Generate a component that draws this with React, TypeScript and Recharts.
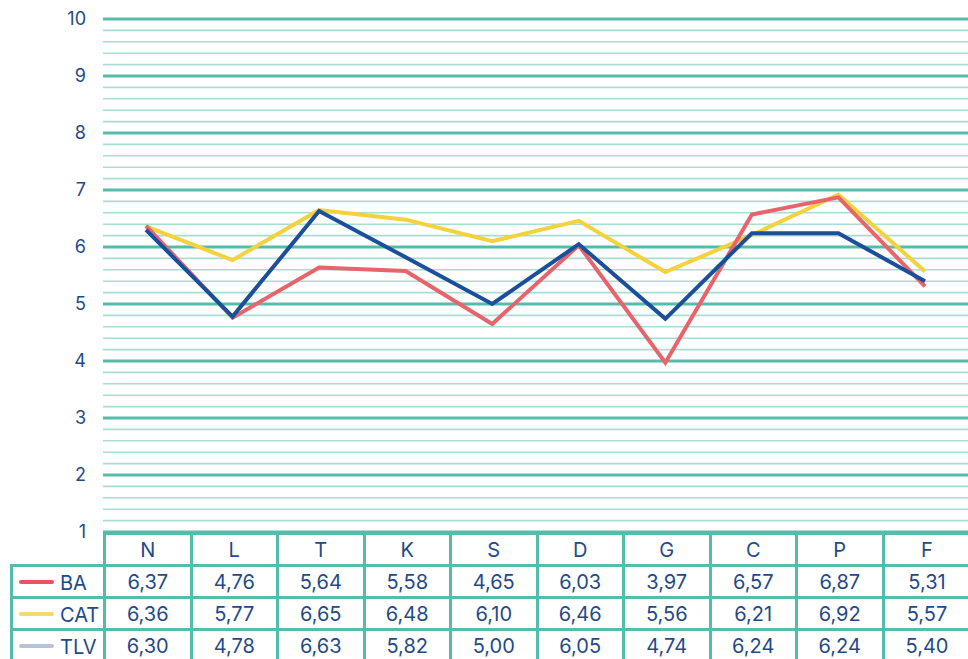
import { LineChart, Line, XAxis, YAxis, ReferenceLine } from 'recharts';

const categories = ['N', 'L', 'T', 'K', 'S', 'D', 'G', 'C', 'P', 'F'];
const ba = [6.37, 4.76, 5.64, 5.58, 4.65, 6.03, 3.97, 6.57, 6.87, 5.31];
const cat = [6.36, 5.77, 6.65, 6.48, 6.1, 6.46, 5.56, 6.21, 6.92, 5.57];
const tlv = [6.3, 4.78, 6.63, 5.82, 5.0, 6.05, 4.74, 6.24, 6.24, 5.4];
const yTicks = [1, 2, 3, 4, 5, 6, 7, 8, 9, 10];

const series = [
  { key: 'CAT', values: cat, color: '#f4d23c', swatch: '#f4d870' },
  { key: 'BA', values: ba, color: '#e8636b', swatch: '#e8555e' },
  { key: 'TLV', values: tlv, color: '#1b4e9b', swatch: '#b7c1d8' },
];
const tableRows = ['BA', 'CAT', 'TLV'].map((k) => series.find((s) => s.key === k)!);

const data = categories.map((c, i) => ({ name: c, BA: ba[i], CAT: cat[i], TLV: tlv[i] }));

// thin lines every 0.2 between the integer lines
const minorLines: number[] = [];
for (let v = 1; v < 10; v++) {
  for (let k = 1; k < 5; k++) minorLines.push(Math.round((v + k * 0.2) * 10) / 10);
}

const GRID = '#55bcab';
const MINOR = '#a9dcd3';
const TEXT = '#1f4a8a';
const fmt = (v: number) => v.toFixed(2).replace('.', ',');

const cell: React.CSSProperties = {
  border: `3px solid ${GRID}`,
  textAlign: 'center',
  color: TEXT,
  fontSize: 20,
  height: 29,
  padding: 0,
};
const lastCol = (i: number): React.CSSProperties =>
  i === categories.length - 1 ? { borderRight: 'none' } : {};

export default function App() {
  return (
    <div
      style={{
        position: 'absolute',
        left: 0,
        top: 0,
        width: 968,
        height: 659,
        overflow: 'hidden',
        background: '#fff',
        fontFamily: 'Inter, "Noto Sans", sans-serif',
      }}
    >
      <LineChart width={968} height={545} data={data} margin={{ top: 19, right: 0, left: 0, bottom: 13 }}>
        <XAxis dataKey="name" hide padding={{ left: 43, right: 43 }} />
        <YAxis
          width={103}
          domain={[1, 10]}
          ticks={yTicks}
          axisLine={false}
          tickLine={false}
          tickSize={0}
          tickMargin={17}
          tick={{ fill: TEXT, fontSize: 18 }}
        />
        {minorLines.map((v) => (
          <ReferenceLine key={'m' + v} y={v} stroke={MINOR} strokeWidth={1.6} />
        ))}
        {yTicks.map((v) => (
          <ReferenceLine key={'M' + v} y={v} stroke={GRID} strokeWidth={3} />
        ))}
        {series.map((s) => (
          <Line
            key={s.key}
            dataKey={s.key}
            stroke={s.color}
            strokeWidth={4}
            dot={false}
            activeDot={false}
            isAnimationActive={false}
            strokeLinejoin="miter"
          />
        ))}
      </LineChart>
      <table
        style={{
          position: 'absolute',
          left: 10,
          top: 532,
          borderCollapse: 'collapse',
          tableLayout: 'fixed',
          width: 958,
        }}
      >
        <colgroup>
          <col style={{ width: 93 }} />
          {categories.map((c) => (
            <col key={c} style={{ width: 86.5 }} />
          ))}
        </colgroup>
        <tbody>
          <tr>
            <td style={{ ...cell, border: 'none' }} />
            {categories.map((c, i) => (
              <td key={c} style={{ ...cell, ...lastCol(i) }}>
                {c}
              </td>
            ))}
          </tr>
          {tableRows.map((s) => (
            <tr key={s.key}>
              <td style={{ ...cell, textAlign: 'left', paddingLeft: 6 }}>
                <span
                  style={{
                    display: 'inline-block',
                    width: 35,
                    height: 4,
                    borderRadius: 2,
                    background: s.swatch,
                    verticalAlign: 'middle',
                    marginRight: 6,
                  }}
                />
                <span style={{ verticalAlign: 'middle' }}>{s.key}</span>
              </td>
              {s.values.map((v, i) => (
                <td key={i} style={{ ...cell, ...lastCol(i) }}>
                  {fmt(v)}
                </td>
              ))}
            </tr>
          ))}
        </tbody>
      </table>
    </div>
  );
}
